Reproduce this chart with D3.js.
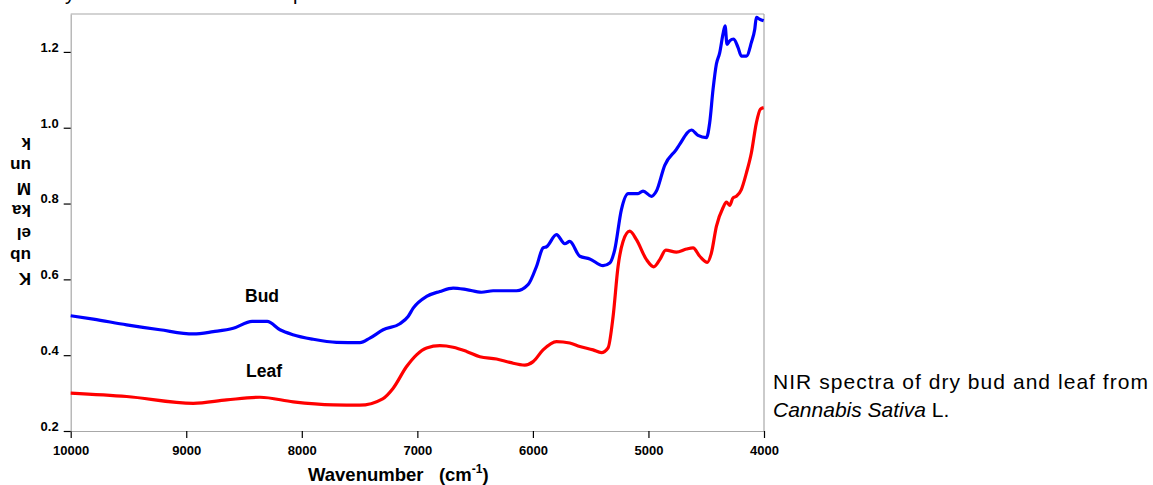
<!DOCTYPE html>
<html>
<head>
<meta charset="utf-8">
<script src="https://cdn.jsdelivr.net/npm/d3@7"></script>
<style>
  html, body { margin: 0; padding: 0; background: #fff; }
  svg { display: block; font-family: "Liberation Sans", Arial, Helvetica, sans-serif; }
</style>
</head>
<body>
<svg id="chart" width="1153" height="485"></svg>
<script>
// ---- Data ----
const budWavenumbers = [10000, 9804, 9516, 9228, 8939, 8766, 8593, 8430, 8300, 8189, 8077, 7901, 7699, 7497, 7411, 7296, 7151, 7080, 7036, 6920, 6805, 6690, 6574, 6445, 6344, 6142, 6042, 5969, 5912, 5882, 5796, 5724, 5681, 5594, 5508, 5393, 5335, 5292, 5234, 5176, 5090, 5047, 4974, 4931, 4859, 4758, 4730, 4628, 4571, 4498, 4470, 4441, 4412, 4383, 4355, 4337, 4320, 4297, 4262, 4225, 4196, 4152, 4109, 4080, 4066, 4037, 4003];
const budValues = [0.504, 0.495, 0.480, 0.467, 0.456, 0.462, 0.471, 0.489, 0.489, 0.467, 0.454, 0.442, 0.434, 0.433, 0.445, 0.467, 0.483, 0.502, 0.524, 0.555, 0.568, 0.577, 0.573, 0.566, 0.570, 0.570, 0.586, 0.634, 0.683, 0.686, 0.718, 0.694, 0.700, 0.661, 0.654, 0.636, 0.643, 0.678, 0.784, 0.826, 0.826, 0.833, 0.819, 0.833, 0.901, 0.943, 0.956, 0.994, 0.980, 0.974, 1.013, 1.101, 1.168, 1.198, 1.247, 1.269, 1.220, 1.229, 1.234, 1.212, 1.189, 1.189, 1.225, 1.260, 1.291, 1.286, 1.282];

const leafWavenumbers = [10000, 9516, 8939, 8651, 8362, 8074, 7728, 7500, 7300, 7209, 7093, 7007, 6920, 6805, 6690, 6574, 6459, 6315, 6200, 6070, 5998, 5912, 5796, 5681, 5594, 5479, 5407, 5350, 5306, 5263, 5220, 5162, 5104, 5017, 4954, 4902, 4850, 4758, 4671, 4614, 4556, 4490, 4455, 4412, 4355, 4325, 4297, 4268, 4239, 4196, 4152, 4109, 4066, 4031, 4003];
const leafValues = [0.300, 0.291, 0.273, 0.282, 0.289, 0.277, 0.269, 0.268, 0.285, 0.313, 0.370, 0.401, 0.419, 0.425, 0.421, 0.410, 0.396, 0.390, 0.381, 0.374, 0.383, 0.414, 0.436, 0.432, 0.423, 0.414, 0.407, 0.419, 0.502, 0.634, 0.700, 0.727, 0.705, 0.652, 0.633, 0.652, 0.677, 0.672, 0.680, 0.683, 0.661, 0.645, 0.670, 0.740, 0.789, 0.804, 0.795, 0.815, 0.819, 0.837, 0.881, 0.934, 1.013, 1.049, 1.053];

const xTicks = [10000, 9000, 8000, 7000, 6000, 5000, 4000];
const yTicks = [0.2, 0.4, 0.6, 0.8, 1.0, 1.2];
const yLabelLines = ["K", "ub", "el", "ka", "M", "un", "k"];
const seriesNames = ["Bud", "Leaf"];
const seriesColors = ["#0000ff", "#ff0000"];
const captionLine1 = "NIR spectra of dry bud and leaf from";
const captionItalic = "Cannabis Sativa";
const captionRest = " L.";

// ---- Layout ----
const svg = d3.select("#chart");
const pLeft = 70.7, pRight = 764, pTop = 14, pBottom = 431;

const x = d3.scaleLinear().domain([10000, 4000]).range([pLeft, pRight]);
const y = d3.scaleLinear().domain([0.2, 1.3]).range([pBottom, pTop]);

// Cut-off title remnants at top (the reference shows only their descenders)
svg.append("text").attr("x", 75).attr("y", 0).attr("text-anchor", "end")
  .attr("font-size", 20).attr("fill", "#000").text("Dry");
svg.append("text").attr("x", 283).attr("y", 0)
  .attr("font-size", 20).attr("fill", "#000").text("spectra");

// Plot frame (top + right)
svg.append("line").attr("x1", pLeft).attr("x2", pRight).attr("y1", pTop).attr("y2", pTop)
  .attr("stroke", "#a8a8a8").attr("stroke-width", 1.2);
svg.append("line").attr("x1", pRight).attr("x2", pRight).attr("y1", pTop).attr("y2", pBottom)
  .attr("stroke", "#a8a8a8").attr("stroke-width", 1.2);

// X axis
const xAxis = svg.append("g").attr("transform", `translate(0,${pBottom})`)
  .call(d3.axisBottom(x).tickValues(xTicks).tickSize(7).tickSizeOuter(0).tickFormat(d3.format("d")));
xAxis.select(".domain").attr("stroke", "#a8a8a8").attr("stroke-width", 1.2);
xAxis.selectAll(".tick line").attr("stroke", "#000").attr("stroke-width", 1.2);
xAxis.selectAll(".tick text").attr("font-size", 13).attr("font-weight", "bold")
  .attr("font-family", "'Liberation Sans', Arial, sans-serif").attr("fill", "#000")
  .attr("y", 24).attr("dy", 0);

// Y axis
const yAxis = svg.append("g").attr("transform", `translate(${pLeft},0)`)
  .call(d3.axisLeft(y).tickValues(yTicks).tickSize(7).tickSizeOuter(0).tickFormat(d3.format(".1f")));
yAxis.select(".domain").attr("stroke", "#a8a8a8").attr("stroke-width", 1.2);
yAxis.selectAll(".tick line").attr("stroke", "#000").attr("stroke-width", 1.2);
yAxis.selectAll(".tick text").attr("font-size", 13).attr("font-weight", "bold")
  .attr("font-family", "'Liberation Sans', Arial, sans-serif").attr("fill", "#000")
  .attr("x", -12).attr("dy", "-0.05em");

// Series lines
const line = d3.line().x(d => x(d[0])).y(d => y(d[1])).curve(d3.curveMonotoneX);
const budData = d3.zip(budWavenumbers, budValues);
const leafData = d3.zip(leafWavenumbers, leafValues);
[budData, leafData].forEach((data, i) => {
  svg.append("path").datum(data).attr("d", line)
    .attr("fill", "none").attr("stroke", seriesColors[i])
    .attr("stroke-width", 3.2).attr("stroke-linejoin", "round");
});

// Series labels
svg.append("text").attr("x", 245).attr("y", 302).attr("font-size", 17.5).attr("font-weight", "bold")
  .attr("fill", "#000").text(seriesNames[0]);
svg.append("text").attr("x", 246).attr("y", 377).attr("font-size", 17.5).attr("font-weight", "bold")
  .attr("fill", "#000").text(seriesNames[1]);

// Y axis title (rotated 180°, stacked lines)
yLabelLines.forEach((t, i) => {
  const yc = 278 - i * 22.5;
  svg.append("text").attr("x", 31).attr("y", yc)
    .attr("dominant-baseline", "central")
    .attr("text-anchor", "start")
    .attr("font-size", 17).attr("font-weight", "bold").attr("fill", "#000")
    .attr("transform", `rotate(180,31,${yc})`)
    .text(t);
});

// X axis title
const xt = svg.append("text").attr("x", 308).attr("y", 481)
  .attr("font-size", 18.5).attr("font-weight", "bold").attr("fill", "#000");
xt.append("tspan").text("Wavenumber\u00a0\u00a0\u00a0(cm");
xt.append("tspan").attr("dy", -8).attr("font-size", 12).text("-1");
xt.append("tspan").attr("dy", 8).text(")");

// Caption
svg.append("text").attr("x", 773).attr("y", 388.5).attr("font-size", 21).attr("fill", "#000")
  .attr("textLength", 375).attr("lengthAdjust", "spacing")
  .text(captionLine1);
const c2 = svg.append("text").attr("x", 773).attr("y", 416.5).attr("font-size", 21).attr("fill", "#000");
c2.append("tspan").attr("font-style", "italic").text(captionItalic);
c2.append("tspan").text(captionRest);
</script>
</body>
</html>
